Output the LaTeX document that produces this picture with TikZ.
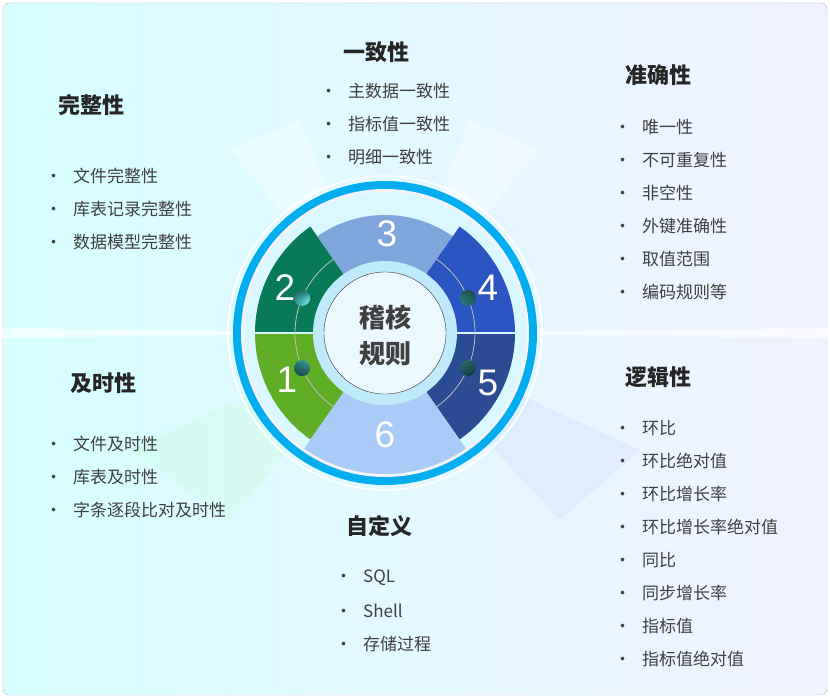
\documentclass[tikz,border=0pt]{standalone}
\usepackage{fontspec}
\setmainfont{Noto Sans CJK SC}
\newfontfamily\numf{Liberation Sans}
\definecolor{ringb}{HTML}{00AEEF}
\definecolor{sA}{HTML}{5FAE25}
\definecolor{sB}{HTML}{087A58}
\definecolor{sC}{HTML}{7FA6DA}
\definecolor{sD}{HTML}{2C55C4}
\definecolor{sE}{HTML}{2B4B92}
\definecolor{sF}{HTML}{A9CBF8}
\begin{document}
\begin{tikzpicture}[x=1pt,y=-1pt,
 ttl/.style={anchor=west,font=\fontsize{22}{24}\selectfont\bfseries,text=black!85},
 itm/.style={anchor=west,font=\fontsize{17}{19}\selectfont,text=black!75,inner sep=0},
 num/.style={font=\numf\fontsize{37}{38}\selectfont,text=white}]
\useasboundingbox (0,0) rectangle (830,698);
\fill[white] (0,0) rectangle (830,698);
\shade[rounded corners=6,left color=cyan!16,right color=cyan!14!blue!6,draw=black!25] (3,3) rectangle (827,695);
% light rays
\fill[white,opacity=0.3] (385,333) -- (230,150) -- (300,120) -- cycle;
\fill[white,opacity=0.3] (385,333) -- (540,150) -- (470,120) -- cycle;
\fill[white,opacity=0.6] (385,333) -- (0,328) -- (0,338) -- cycle;
\fill[white,opacity=0.6] (385,333) -- (830,328) -- (830,338) -- cycle;
\fill[green!30,opacity=0.15] (385,333) -- (230,520) -- (130,450) -- cycle;
\fill[blue!30,opacity=0.12] (385,333) -- (560,520) -- (640,450) -- cycle;
% rings
\draw[white,line width=1.5] (385,333) circle (157);
\fill[ringb] (385,333) circle (152);
\fill[cyan!8!blue!4!white] (385,333) circle (144);
\fill[blue!18!cyan!15!white] (385,333) circle (141);
% segments (y flipped: negative angle = upward)
\fill[sA] (385,333) -- ++(180:130) arc[start angle=180,end angle=125,radius=130] -- cycle;
\fill[sB] (385,333) -- ++(-125:130) arc[start angle=-125,end angle=-180,radius=130] -- cycle;
\fill[sC] (385,333) -- ++(-55:118) arc[start angle=-55,end angle=-125,radius=118] -- cycle;
\fill[sD] (385,333) -- ++(0:130) arc[start angle=0,end angle=-55,radius=130] -- cycle;
\fill[sE] (385,333) -- ++(55:130) arc[start angle=55,end angle=0,radius=130] -- cycle;
\fill[sF] (385,333) -- ++(125:141) arc[start angle=125,end angle=55,radius=141] -- cycle;
% separators
\draw[cyan!15!white,line width=2] (255,333) -- (515,333);
% inner arcs
\draw[black!25,line width=0.8] (385,333) ++(125:90) arc[start angle=125,end angle=235,radius=90];
\draw[black!25,line width=0.8] (385,333) ++(55:90) arc[start angle=55,end angle=-55,radius=90];
\fill[cyan!25!white] (385,333) circle (72);
\draw[black!80,fill=cyan!8!white] (385,333) circle (61);
\foreach \a in {157,-157,23,-23} \shade[ball color=cyan!60!teal!70] (385,333) ++(\a:90) circle (8);
% numbers
\node[num] at (287,380) {1};
\node[num] at (285,288) {2};
\node[num] at (387,234) {3};
\node[num] at (488,288) {4};
\node[num] at (488,383) {5};
\node[num] at (385,435) {6};
\node[font=\fontsize{26}{36}\selectfont\bfseries,text=black!75,align=center] (c) at (385,335) {稽核\\规则};
% texts
\node[ttl] (t1) at (55,105) {完整性};
\foreach \t [count=\i] in {文件完整性,库表记录完整性,数据模型完整性}
 \node[itm] at (45,143+33*\i) {•\hspace{11pt}\t};
\node[ttl] (t2) at (340,52) {一致性};
\foreach \t [count=\i] in {主数据一致性,指标值一致性,明细一致性}
 \node[itm] at (320,58+33*\i) {•\hspace{11pt}\t};
\node[ttl] (t3) at (622,75) {准确性};
\foreach \t [count=\i] in {唯一性,不可重复性,非空性,外键准确性,取值范围,编码规则等}
 \node[itm] at (614,94+33*\i) {•\hspace{11pt}\t};
\node[ttl] (t4) at (67,383) {及时性};
\foreach \t [count=\i] in {文件及时性,库表及时性,字条逐段比对及时性}
 \node[itm] at (45,411+33*\i) {•\hspace{11pt}\t};
\node[ttl] (t5) at (622,377) {逻辑性};
\foreach \t [count=\i] in {环比,环比绝对值,环比增长率,环比增长率绝对值,同比,同步增长率,指标值,指标值绝对值}
 \node[itm] at (614,395+33*\i) {•\hspace{11pt}\t};
\node[ttl] (t6) at (343,526) {自定义};
\foreach \t [count=\i] in {SQL,Shell,存储过程}
 \node[itm] at (335,545+33*\i) {•\hspace{11pt}\t};
\end{tikzpicture}
\end{document}
